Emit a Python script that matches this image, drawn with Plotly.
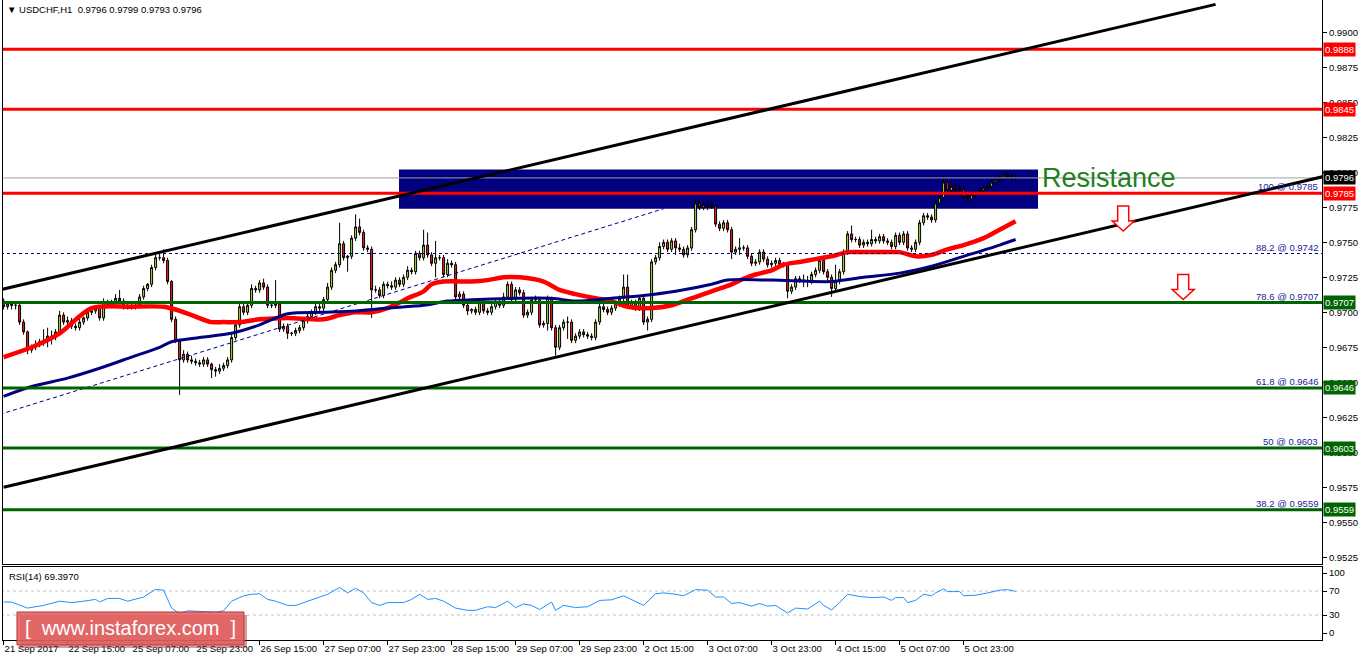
import plotly.graph_objects as go

# ---------------- data ----------------
time_labels = ["21 Sep 2017", "22 Sep 15:00", "25 Sep 07:00", "25 Sep 23:00", "26 Sep 15:00",
               "27 Sep 07:00", "27 Sep 23:00", "28 Sep 15:00", "29 Sep 07:00", "29 Sep 23:00",
               "2 Oct 15:00", "3 Oct 07:00", "3 Oct 23:00", "4 Oct 15:00", "5 Oct 07:00", "5 Oct 23:00"]
label_bars = [0, 16, 32, 48, 64, 80, 96, 112, 128, 144, 160, 176, 192, 208, 224, 240]

price_ticks = [0.9525, 0.9550, 0.9575, 0.9600, 0.9625, 0.9650, 0.9675, 0.9700, 0.9725,
               0.9750, 0.9775, 0.9800, 0.9825, 0.9850, 0.9875, 0.9900]
rsi_ticks = [0, 30, 70, 100]

first_open = 0.9708
closes = [
    0.9704, 0.9706, 0.9705, 0.9705, 0.9693, 0.9686, 0.9673, 0.9675, 0.9677, 0.9679,
    0.9680, 0.9683, 0.9682, 0.9686, 0.9698, 0.9693, 0.9694, 0.9690, 0.9689, 0.9693,
    0.9696, 0.9700, 0.9701, 0.9703, 0.9696, 0.9707, 0.9705, 0.9707, 0.9710, 0.9708,
    0.9704, 0.9705, 0.9704, 0.9705, 0.9711, 0.9717, 0.9720, 0.9732, 0.9739, 0.9739,
    0.9737, 0.9722, 0.9695, 0.9680, 0.9666, 0.9670, 0.9666, 0.9665, 0.9664, 0.9663,
    0.9666, 0.9663, 0.9659, 0.9658, 0.9660, 0.9662, 0.9666, 0.9682, 0.9691, 0.9704,
    0.9700, 0.9705, 0.9717, 0.9716, 0.9721, 0.9718, 0.9705, 0.9705, 0.9706, 0.9688,
    0.9690, 0.9685, 0.9685, 0.9687, 0.9689, 0.9694, 0.9697, 0.9700, 0.9704, 0.9703,
    0.9709, 0.9718, 0.9730, 0.9734, 0.9749, 0.9739, 0.9740, 0.9753, 0.9761, 0.9757,
    0.9746, 0.9745, 0.9716, 0.9716, 0.9712, 0.9720, 0.9719, 0.9718, 0.9723, 0.9720,
    0.9725, 0.9730, 0.9729, 0.9742, 0.9739, 0.9748, 0.9741, 0.9735, 0.9739, 0.9739,
    0.9727, 0.9735, 0.9734, 0.9711, 0.9713, 0.9705, 0.9701, 0.9702, 0.9700, 0.9707,
    0.9701, 0.9700, 0.9704, 0.9707, 0.9705, 0.9711, 0.9720, 0.9709, 0.9716, 0.9714,
    0.9698, 0.9700, 0.9709, 0.9709, 0.9691, 0.9692, 0.9710, 0.9689, 0.9675, 0.9689,
    0.9693, 0.9693, 0.9680, 0.9683, 0.9686, 0.9684, 0.9683, 0.9682, 0.9693, 0.9704,
    0.9702, 0.9700, 0.9703, 0.9706, 0.9710, 0.9718, 0.9705, 0.9707, 0.9703, 0.9710,
    0.9693, 0.9695, 0.9736, 0.9739, 0.9747, 0.9750, 0.9745, 0.9751, 0.9746, 0.9745,
    0.9741, 0.9746, 0.9759, 0.9778, 0.9775, 0.9777, 0.9777, 0.9776, 0.9763, 0.9760,
    0.9764, 0.9759, 0.9743, 0.9745, 0.9746, 0.9746, 0.9740, 0.9735, 0.9736, 0.9743,
    0.9738, 0.9734, 0.9735, 0.9737, 0.9734, 0.9734, 0.9715, 0.9718, 0.9724, 0.9723,
    0.9722, 0.9722, 0.9727, 0.9730, 0.9737, 0.9729, 0.9725, 0.9717, 0.9722, 0.9729,
    0.9743, 0.9756, 0.9752, 0.9752, 0.9748, 0.9750, 0.9749, 0.9752, 0.9751, 0.9754,
    0.9751, 0.9750, 0.9747, 0.9755, 0.9750, 0.9756, 0.9746, 0.9745, 0.9750, 0.9764,
    0.9769, 0.9768, 0.9766, 0.9778, 0.9782, 0.9793, 0.9787, 0.9790, 0.9788, 0.9788,
    0.9782, 0.9781, 0.9784, 0.9785, 0.9787, 0.9789, 0.9790, 0.9793, 0.9795, 0.9796,
    0.9798, 0.9797, 0.9796, 0.9796,
]
# upper / lower shadow lengths in pips, read per bar
wick_up = [
    2, 2, 1, 2, 1, 2, 1, 2, 3, 2,
    8, 6, 4, 2, 3, 2, 3, 2, 2, 3,
    1, 2, 2, 1, 1, 3, 2, 2, 3, 6,
    2, 2, 1, 2, 2, 2, 1, 2, 3, 3,
    6, 2, 1, 2, 1, 3, 2, 3, 2, 2,
    2, 2, 1, 2, 3, 2, 2, 2, 3, 2,
    2, 2, 3, 2, 2, 3, 2, 2, 17, 2,
    2, 2, 1, 2, 2, 2, 3, 2, 2, 2,
    2, 3, 2, 2, 15, 2, 1, 2, 9, 6,
    2, 2, 2, 3, 2, 2, 2, 3, 2, 2,
    2, 3, 2, 2, 2, 11, 9, 2, 12, 2,
    2, 3, 2, 2, 2, 2, 2, 1, 2, 2,
    2, 2, 2, 2, 2, 3, 2, 2, 2, 2,
    2, 2, 2, 3, 2, 2, 2, 1, 2, 2,
    2, 4, 2, 2, 2, 2, 2, 2, 2, 2,
    2, 2, 2, 2, 2, 9, 9, 2, 2, 2,
    2, 2, 2, 2, 3, 2, 2, 2, 2, 3,
    2, 2, 2, 2, 3, 2, 4, 2, 2, 2,
    2, 2, 2, 2, 7, 2, 2, 2, 2, 2,
    2, 2, 2, 2, 2, 2, 2, 2, 2, 2,
    4, 4, 2, 2, 2, 2, 2, 2, 12, 2,
    2, 2, 6, 2, 2, 2, 2, 7, 2, 2,
    2, 2, 2, 2, 2, 2, 2, 2, 2, 2,
    2, 2, 2, 2, 2, 4, 2, 2, 2, 3,
    2, 2, 2, 2, 2, 2, 2, 2, 2, 2,
    2, 2, 2, 3,
]
wick_dn = [
    2, 2, 3, 3, 2, 2, 3, 2, 2, 2,
    3, 5, 5, 2, 3, 2, 2, 2, 2, 2,
    2, 2, 2, 2, 2, 2, 2, 2, 2, 2,
    2, 2, 2, 2, 2, 2, 2, 2, 2, 2,
    2, 2, 2, 2, 25, 2, 2, 2, 2, 2,
    2, 2, 6, 4, 2, 2, 2, 2, 2, 2,
    2, 2, 2, 2, 2, 2, 2, 2, 2, 2,
    2, 4, 2, 2, 2, 2, 2, 2, 2, 2,
    2, 2, 2, 2, 2, 2, 10, 2, 2, 2,
    2, 2, 20, 2, 2, 2, 2, 2, 2, 2,
    2, 2, 2, 2, 2, 2, 2, 2, 10, 2,
    2, 2, 2, 2, 2, 2, 3, 2, 2, 2,
    2, 2, 2, 2, 2, 2, 2, 2, 2, 2,
    2, 2, 2, 2, 2, 2, 5, 2, 6, 2,
    2, 12, 2, 2, 2, 2, 2, 2, 2, 2,
    2, 2, 2, 2, 2, 2, 2, 2, 2, 2,
    2, 6, 2, 2, 2, 2, 2, 2, 5, 2,
    2, 2, 2, 2, 2, 2, 4, 2, 2, 2,
    2, 2, 5, 2, 4, 2, 2, 2, 2, 2,
    2, 2, 2, 2, 2, 2, 5, 2, 2, 2,
    4, 4, 2, 2, 2, 2, 2, 6, 2, 2,
    2, 2, 2, 2, 2, 2, 2, 2, 2, 2,
    2, 2, 2, 2, 2, 2, 2, 2, 2, 2,
    2, 2, 2, 2, 2, 2, 2, 2, 2, 3,
    2, 2, 2, 2, 2, 2, 2, 2, 2, 2,
    2, 2, 2, 3,
]

red_ma_bars = [0, 7, 14, 22, 32, 40, 43, 47, 52, 55, 59, 64, 71, 80, 84, 88, 92, 96, 99, 101,
               105, 107, 110, 117, 121, 125, 129, 135, 139, 143, 148, 152, 156, 162, 167, 171, 175, 178, 182, 185,
               188, 192, 195, 199, 203, 207, 211, 215, 220, 224, 228, 232, 236, 240, 245, 249, 253]
red_ma_vals = [0.9668, 0.9675, 0.9685, 0.9703, 0.9704, 0.9704, 0.9702, 0.9698, 0.9693, 0.9693,
               0.9693, 0.9695, 0.9696, 0.9695, 0.9698, 0.9700, 0.9700, 0.9703, 0.9707, 0.9710,
               0.9715, 0.9720, 0.9722, 0.9722, 0.9723, 0.9725, 0.9725, 0.9722, 0.9716, 0.9713,
               0.9710, 0.9708, 0.9704, 0.9703, 0.9705, 0.9709, 0.9713, 0.9716, 0.9720, 0.9724,
               0.9727, 0.9730, 0.9734, 0.9736, 0.9738, 0.9740, 0.9743, 0.9743, 0.9743, 0.9743,
               0.9740, 0.9741, 0.9745, 0.9748, 0.9753, 0.9759, 0.9765]
navy_ma_bars = [0, 7, 16, 24, 32, 39, 42, 49, 57, 64, 71, 80, 88, 96, 105, 111, 117, 128, 137, 143,
                152, 160, 168, 177, 181, 192, 207, 215, 224, 232, 240, 249, 253]
navy_ma_vals = [0.9640, 0.9647, 0.9653, 0.9660, 0.9668, 0.9675, 0.9679, 0.9682, 0.9685, 0.9691,
                0.9699, 0.9700, 0.9701, 0.9703, 0.9705, 0.9708, 0.9709, 0.9710, 0.9710, 0.9708,
                0.9710, 0.9712, 0.9715, 0.9720, 0.9723, 0.9723, 0.9722, 0.9725, 0.9728, 0.9733,
                0.9740, 0.9748, 0.9752]

rsi_bars = [0, 2, 6, 8, 10, 14, 17, 20, 23, 24, 26, 29, 31, 35, 38, 40, 42, 44, 46, 49,
            53, 55, 57, 60, 62, 64, 66, 68, 71, 73, 76, 78, 81, 84, 86, 88, 90, 92, 94, 96,
            100, 102, 104, 106, 108, 110, 113, 116, 118, 121, 123, 126, 128, 130, 132, 134, 137, 138, 140, 143,
            146, 149, 152, 155, 157, 160, 163, 165, 168, 170, 173, 176, 178, 180, 182, 184, 187, 189, 191, 193,
            196, 198, 201, 204, 205, 207, 209, 211, 214, 217, 220, 222, 223, 225, 226, 228, 230, 232, 233, 235,
            236, 239, 240, 243, 246, 249, 251, 253]
rsi_vals = [51.6, 51.6, 41.5, 43.8, 46, 53, 50.7, 53, 56, 51.6, 57.6, 57.6, 53, 60, 72.8, 71.4, 41.5, 32.3, 37, 36,
            34.6, 37, 53, 62, 64.5, 65.4, 56, 53, 46, 46, 53, 57.6, 64.5, 76, 66.8, 74.6, 66.8, 50.7, 46, 50.7,
            50.7, 56, 64.5, 56, 57.6, 53, 41.5, 37.8, 37.8, 43.8, 42.4, 53, 42.4, 48.4, 46, 39.2, 51.6, 37.8, 46, 42.4,
            43.8, 54.3, 55.3, 62, 55.3, 46, 65.4, 66.8, 64.5, 62, 72.3, 71.4, 60, 60, 49.3, 50.7, 44.7, 49.3, 44.7, 46,
            33.2, 41.5, 40, 53, 46, 38.4, 50.7, 64.5, 60.8, 59, 60, 54.4, 59, 59, 50.7, 54.4, 64.5, 62, 66.8, 73.7,
            69, 69, 62, 63, 66.8, 71.4, 72.3, 69.4]
rsi_levels = [30, 70]

red_levels = [0.9888, 0.9845, 0.9785]
green_levels = [0.9707, 0.9646, 0.9603, 0.9559]
fib_levels = [0.9785, 0.9742, 0.9707, 0.9646, 0.9603, 0.9559]
fib_names = ["100", "88.2", "78.6", "61.8", "50", "38.2"]
bid_price = 0.9796

upper_channel_bars = [-1, 303]
upper_channel_vals = [0.9716, 0.9920]
lower_channel_bars = [0, 330]
lower_channel_vals = [0.9575, 0.9797]
fib_trend_bars = [-1, 165]
fib_trend_vals = [0.9627, 0.9774]

zone_bars = [98.85, 258.6]
zone_vals = [0.9774, 0.9802]

arrow_bars = [279.9, 294.9]
arrow_vals = [0.9767, 0.9718]

# ---------------- build ----------------
opens = [first_open] + closes[:-1]
highs = [max(o, c) + u * 0.0001 for o, c, u in zip(opens, closes, wick_up)]
lows = [min(o, c) - d * 0.0001 for o, c, d in zip(opens, closes, wick_dn)]
bars = list(range(len(closes)))

FONT = "Liberation Sans, Arial, sans-serif"
x_lo, x_hi = -0.15, 329.6

fig = go.Figure()

fig.add_trace(go.Candlestick(
    x=bars, open=opens, high=highs, low=lows, close=closes,
    increasing=dict(line=dict(color="black", width=1), fillcolor="#A4E03A"),
    decreasing=dict(line=dict(color="black", width=1), fillcolor="#FF1A1A"),
    whiskerwidth=0, hoverinfo="skip", showlegend=False, xaxis="x", yaxis="y"))

fig.add_trace(go.Scatter(x=red_ma_bars, y=red_ma_vals, mode="lines",
                         line=dict(color="#FF0000", width=4.5, shape="spline", smoothing=0.8),
                         hoverinfo="skip", showlegend=False))
fig.add_trace(go.Scatter(x=navy_ma_bars, y=navy_ma_vals, mode="lines",
                         line=dict(color="#000080", width=3, shape="spline", smoothing=0.8),
                         hoverinfo="skip", showlegend=False))

# fibo dashed levels and fibo trend line
for lv in fib_levels:
    fig.add_trace(go.Scatter(x=[x_lo - 2, x_hi + 2], y=[lv, lv], mode="lines",
                             line=dict(color="#000080", width=1, dash="3px,3px"),
                             hoverinfo="skip", showlegend=False))
fig.add_trace(go.Scatter(x=fib_trend_bars, y=fib_trend_vals, mode="lines",
                         line=dict(color="#000080", width=1, dash="4px,3px"),
                         hoverinfo="skip", showlegend=False))

# horizontal support / resistance lines
for lv in red_levels:
    fig.add_trace(go.Scatter(x=[x_lo - 2, x_hi + 2], y=[lv, lv], mode="lines",
                             line=dict(color="#FF0000", width=3), hoverinfo="skip", showlegend=False))
for lv in green_levels:
    fig.add_trace(go.Scatter(x=[x_lo - 2, x_hi + 2], y=[lv, lv], mode="lines",
                             line=dict(color="#006400", width=3), hoverinfo="skip", showlegend=False))

# bid line
fig.add_trace(go.Scatter(x=[x_lo - 2, x_hi + 2], y=[bid_price, bid_price], mode="lines",
                         line=dict(color="#A0A0A0", width=1), hoverinfo="skip", showlegend=False))

# channel
fig.add_trace(go.Scatter(x=upper_channel_bars, y=upper_channel_vals, mode="lines",
                         line=dict(color="black", width=3), hoverinfo="skip", showlegend=False))
fig.add_trace(go.Scatter(x=lower_channel_bars, y=lower_channel_vals, mode="lines",
                         line=dict(color="black", width=3), hoverinfo="skip", showlegend=False))

# RSI pane
for lv in rsi_levels:
    fig.add_trace(go.Scatter(x=[x_lo - 2, x_hi + 2], y=[lv, lv], mode="lines", xaxis="x2", yaxis="y2",
                             line=dict(color="#C0C0C0", width=1, dash="3px,3px"),
                             hoverinfo="skip", showlegend=False))
fig.add_trace(go.Scatter(x=rsi_bars, y=rsi_vals, mode="lines", xaxis="x2", yaxis="y2",
                         line=dict(color="#1E90FF", width=1), hoverinfo="skip", showlegend=False))

ARROW_PATH = "M -5.5,12.5 L 5.5,12.5 L 5.5,-2.5 L 11,-2.5 L 0,-12.5 L -11,-2.5 L -5.5,-2.5 Z"

shapes = [
    dict(type="rect", xref="x", yref="y", x0=zone_bars[0], x1=zone_bars[1], y0=zone_vals[0], y1=zone_vals[1],
         fillcolor="#000080", line=dict(width=0), layer="below"),
    # watermark
    dict(type="rect", xref="paper", yref="paper", x0=0.0129, x1=0.1850, y0=-0.0125, y1=0.0390,
         fillcolor="rgba(150,40,40,0.45)", line=dict(width=0), layer="above"),
    dict(type="rect", xref="paper", yref="paper", x0=0.0106, x1=0.1827, y0=-0.0078, y1=0.0438,
         fillcolor="rgba(226,96,96,0.88)", line=dict(color="rgba(190,60,60,1)", width=1), layer="above"),
]
for ab, av in zip(arrow_bars, arrow_vals):
    shapes.append(dict(type="path", xref="x", yref="y", xsizemode="pixel", ysizemode="pixel",
                       xanchor=ab, yanchor=av, path=ARROW_PATH, fillcolor="white",
                       line=dict(color="#FF0000", width=1.5), layer="above"))

annotations = []
# value labels on price axis
for lv in red_levels:
    annotations.append(dict(xref="paper", yref="y", x=1, y=lv, xanchor="left", yanchor="middle", xshift=1,
                            text=f"{lv:.4f}", showarrow=False, bgcolor="#FF0000", borderpad=1,
                            font=dict(family=FONT, size=9.5, color="white")))
for lv in green_levels:
    annotations.append(dict(xref="paper", yref="y", x=1, y=lv, xanchor="left", yanchor="middle", xshift=1,
                            text=f"{lv:.4f}", showarrow=False, bgcolor="#006400", borderpad=1,
                            font=dict(family=FONT, size=9.5, color="white")))
annotations.append(dict(xref="paper", yref="y", x=1, y=bid_price, xanchor="left", yanchor="middle", xshift=1,
                        text=f"{bid_price:.4f}", showarrow=False, bgcolor="black", borderpad=1,
                        font=dict(family=FONT, size=9.5, color="white")))
# fibo texts
for lv, nm in zip(fib_levels, fib_names):
    annotations.append(dict(xref="paper", yref="y", x=1, y=lv, xanchor="right", yanchor="bottom", xshift=-2,
                            yshift=-1, text=f"{nm} @ {lv:.4f}", showarrow=False,
                            font=dict(family=FONT, size=9.5, color="#1A1A9A")))
# Resistance label
annotations.append(dict(xref="x", yref="y", x=259.1, y=0.9796, xanchor="left", yanchor="middle",
                        text="Resistance", showarrow=False,
                        font=dict(family=FONT, size=27, color="#1E801E")))
# title
annotations.append(dict(xref="paper", yref="paper", x=0.0015, y=1, xanchor="left", yanchor="top", yshift=-2,
                        text="\u25bc USDCHF,H1\u00a0\u00a00.9796 0.9799 0.9793 0.9796", showarrow=False,
                        font=dict(family=FONT, size=9.5, color="black")))
annotations.append(dict(xref="paper", yref="paper", x=0.003, y=0.1, xanchor="left", yanchor="middle",
                        text="RSI(14) 69.3970", showarrow=False,
                        font=dict(family=FONT, size=9.5, color="black")))
annotations.append(dict(xref="paper", yref="paper", x=0.0966, y=0.018, xanchor="center", yanchor="middle",
                        text="[\u00a0\u00a0www.instaforex.com\u00a0\u00a0]", showarrow=False,
                        font=dict(family=FONT, size=20, color="white")))

axis_common = dict(showgrid=False, zeroline=False, showline=True, mirror=True, linecolor="black",
                   linewidth=1, tickcolor="black", ticklen=4, tickwidth=1, automargin=False,
                   tickangle=0, tickfont=dict(family=FONT, size=9.5, color="black"))

fig.update_layout(
    width=1362, height=661,
    margin=dict(l=3, r=40, t=0, b=21, autoexpand=False),
    paper_bgcolor="white", plot_bgcolor="white",
    showlegend=False,
    xaxis=dict(domain=[0, 1], anchor="y", range=[x_lo, x_hi], showticklabels=False, ticks="",
               rangeslider=dict(visible=False), **axis_common),
    xaxis2=dict(domain=[0, 1], anchor="y2", matches="x", range=[x_lo, x_hi], tickmode="array",
                tickvals=label_bars, ticktext=time_labels, ticks="outside",
                ticklabelposition="outside right", **axis_common),
    yaxis=dict(domain=[0.11875, 1], anchor="x", side="right", range=[0.95202, 0.99231],
               tickmode="array", tickvals=price_ticks, ticktext=[f"{v:.4f}" for v in price_ticks],
               ticks="outside", **axis_common),
    yaxis2=dict(domain=[0, 0.11406], anchor="x2", side="right", range=[-11.67, 110],
                tickmode="array", tickvals=rsi_ticks, ticktext=[str(v) for v in rsi_ticks],
                ticks="outside", **axis_common),
    shapes=shapes, annotations=annotations,
)

fig.write_html("out.html", config={"displayModeBar": False},
               post_script="document.body.style.margin='0px';document.body.style.overflow='hidden';")
